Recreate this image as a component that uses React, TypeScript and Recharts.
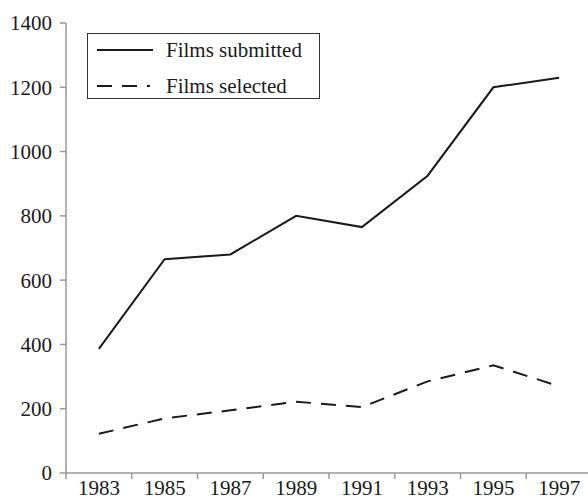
import { LineChart, Line, XAxis, YAxis, Legend } from "recharts";

const years = [1983, 1985, 1987, 1989, 1991, 1993, 1995, 1997];
const submitted = [386, 665, 680, 800, 765, 925, 1200, 1230];
const selected = [122, 170, 195, 222, 205, 285, 335, 270];
const yTicks = [0, 200, 400, 600, 800, 1000, 1200, 1400];

const data = years.map((year, i) => ({
  year,
  submitted: submitted[i],
  selected: selected[i],
}));

const FONT = '"Liberation Serif", "DejaVu Serif", serif';
const INK = "#1a1a1a";
const AXIS = "#999";
const FS = 21;
// half of one two-year band, in px (plot width 526 / 8 bands / 2)
const HALF_BAND = 32.875;

const XTick = (props: any) => {
  const { x, y, payload } = props;
  const lx = x - HALF_BAND;
  return (
    <g>
      <line x1={lx} x2={lx} y1={y} y2={y + 6} stroke={AXIS} strokeWidth={1.5} />
      <text x={x} y={y + 22} textAnchor="middle" fontFamily={FONT} fontSize={FS} fill={INK}>
        {payload.value}
      </text>
    </g>
  );
};

const LegendBox = () => (
  <div
    style={{
      width: 233,
      height: 66,
      border: "1px solid #333",
      boxSizing: "border-box",
      position: "relative",
      background: "#fff",
    }}
  >
    <svg width={233} height={66} style={{ position: "absolute", left: -1, top: -1 }}>
      <line x1={10} x2={66} y1={17} y2={17} stroke={INK} strokeWidth={2} />
      <line x1={10} x2={63} y1={53} y2={53} stroke={INK} strokeWidth={2} strokeDasharray="15 10" />
      <text x={79} y={24} fontFamily={FONT} fontSize={FS} fill={INK}>
        Films submitted
      </text>
      <text x={79} y={60} fontFamily={FONT} fontSize={FS} fill={INK}>
        Films selected
      </text>
    </svg>
  </div>
);

export default function App() {
  return (
    <div
      style={{
        position: "absolute",
        left: 0,
        top: 0,
        width: 588,
        height: 500,
        overflow: "hidden",
        background: "#fff",
      }}
    >
      <LineChart
        width={600}
        height={500}
        data={data}
        margin={{ top: 23, right: 8, bottom: 0, left: 0 }}
      >
        <XAxis
          dataKey="year"
          type="number"
          domain={[1982, 1998]}
          ticks={years}
          interval={0}
          height={27}
          tickSize={0}
          tickMargin={0}
          tickLine={false}
          axisLine={{ stroke: AXIS, strokeWidth: 1.5 }}
          tick={<XTick />}
        />
        <YAxis
          domain={[0, 1400]}
          ticks={yTicks}
          interval={0}
          width={66}
          tickSize={6}
          tickMargin={8}
          axisLine={{ stroke: AXIS, strokeWidth: 1.5 }}
          tickLine={{ stroke: AXIS, strokeWidth: 1.5 }}
          tick={{ fontFamily: FONT, fontSize: FS, fill: INK }}
        />
        <Legend
          layout="horizontal"
          verticalAlign="middle"
          align="center"
          content={<LegendBox />}
          wrapperStyle={{ top: 33, left: 87, width: 233, height: 66 }}
        />
        <Line
          dataKey="submitted"
          name="Films submitted"
          stroke={INK}
          strokeWidth={2}
          dot={false}
          isAnimationActive={false}
        />
        <Line
          dataKey="selected"
          name="Films selected"
          stroke={INK}
          strokeWidth={2}
          strokeDasharray="15 10"
          dot={false}
          isAnimationActive={false}
        />
      </LineChart>
    </div>
  );
}
